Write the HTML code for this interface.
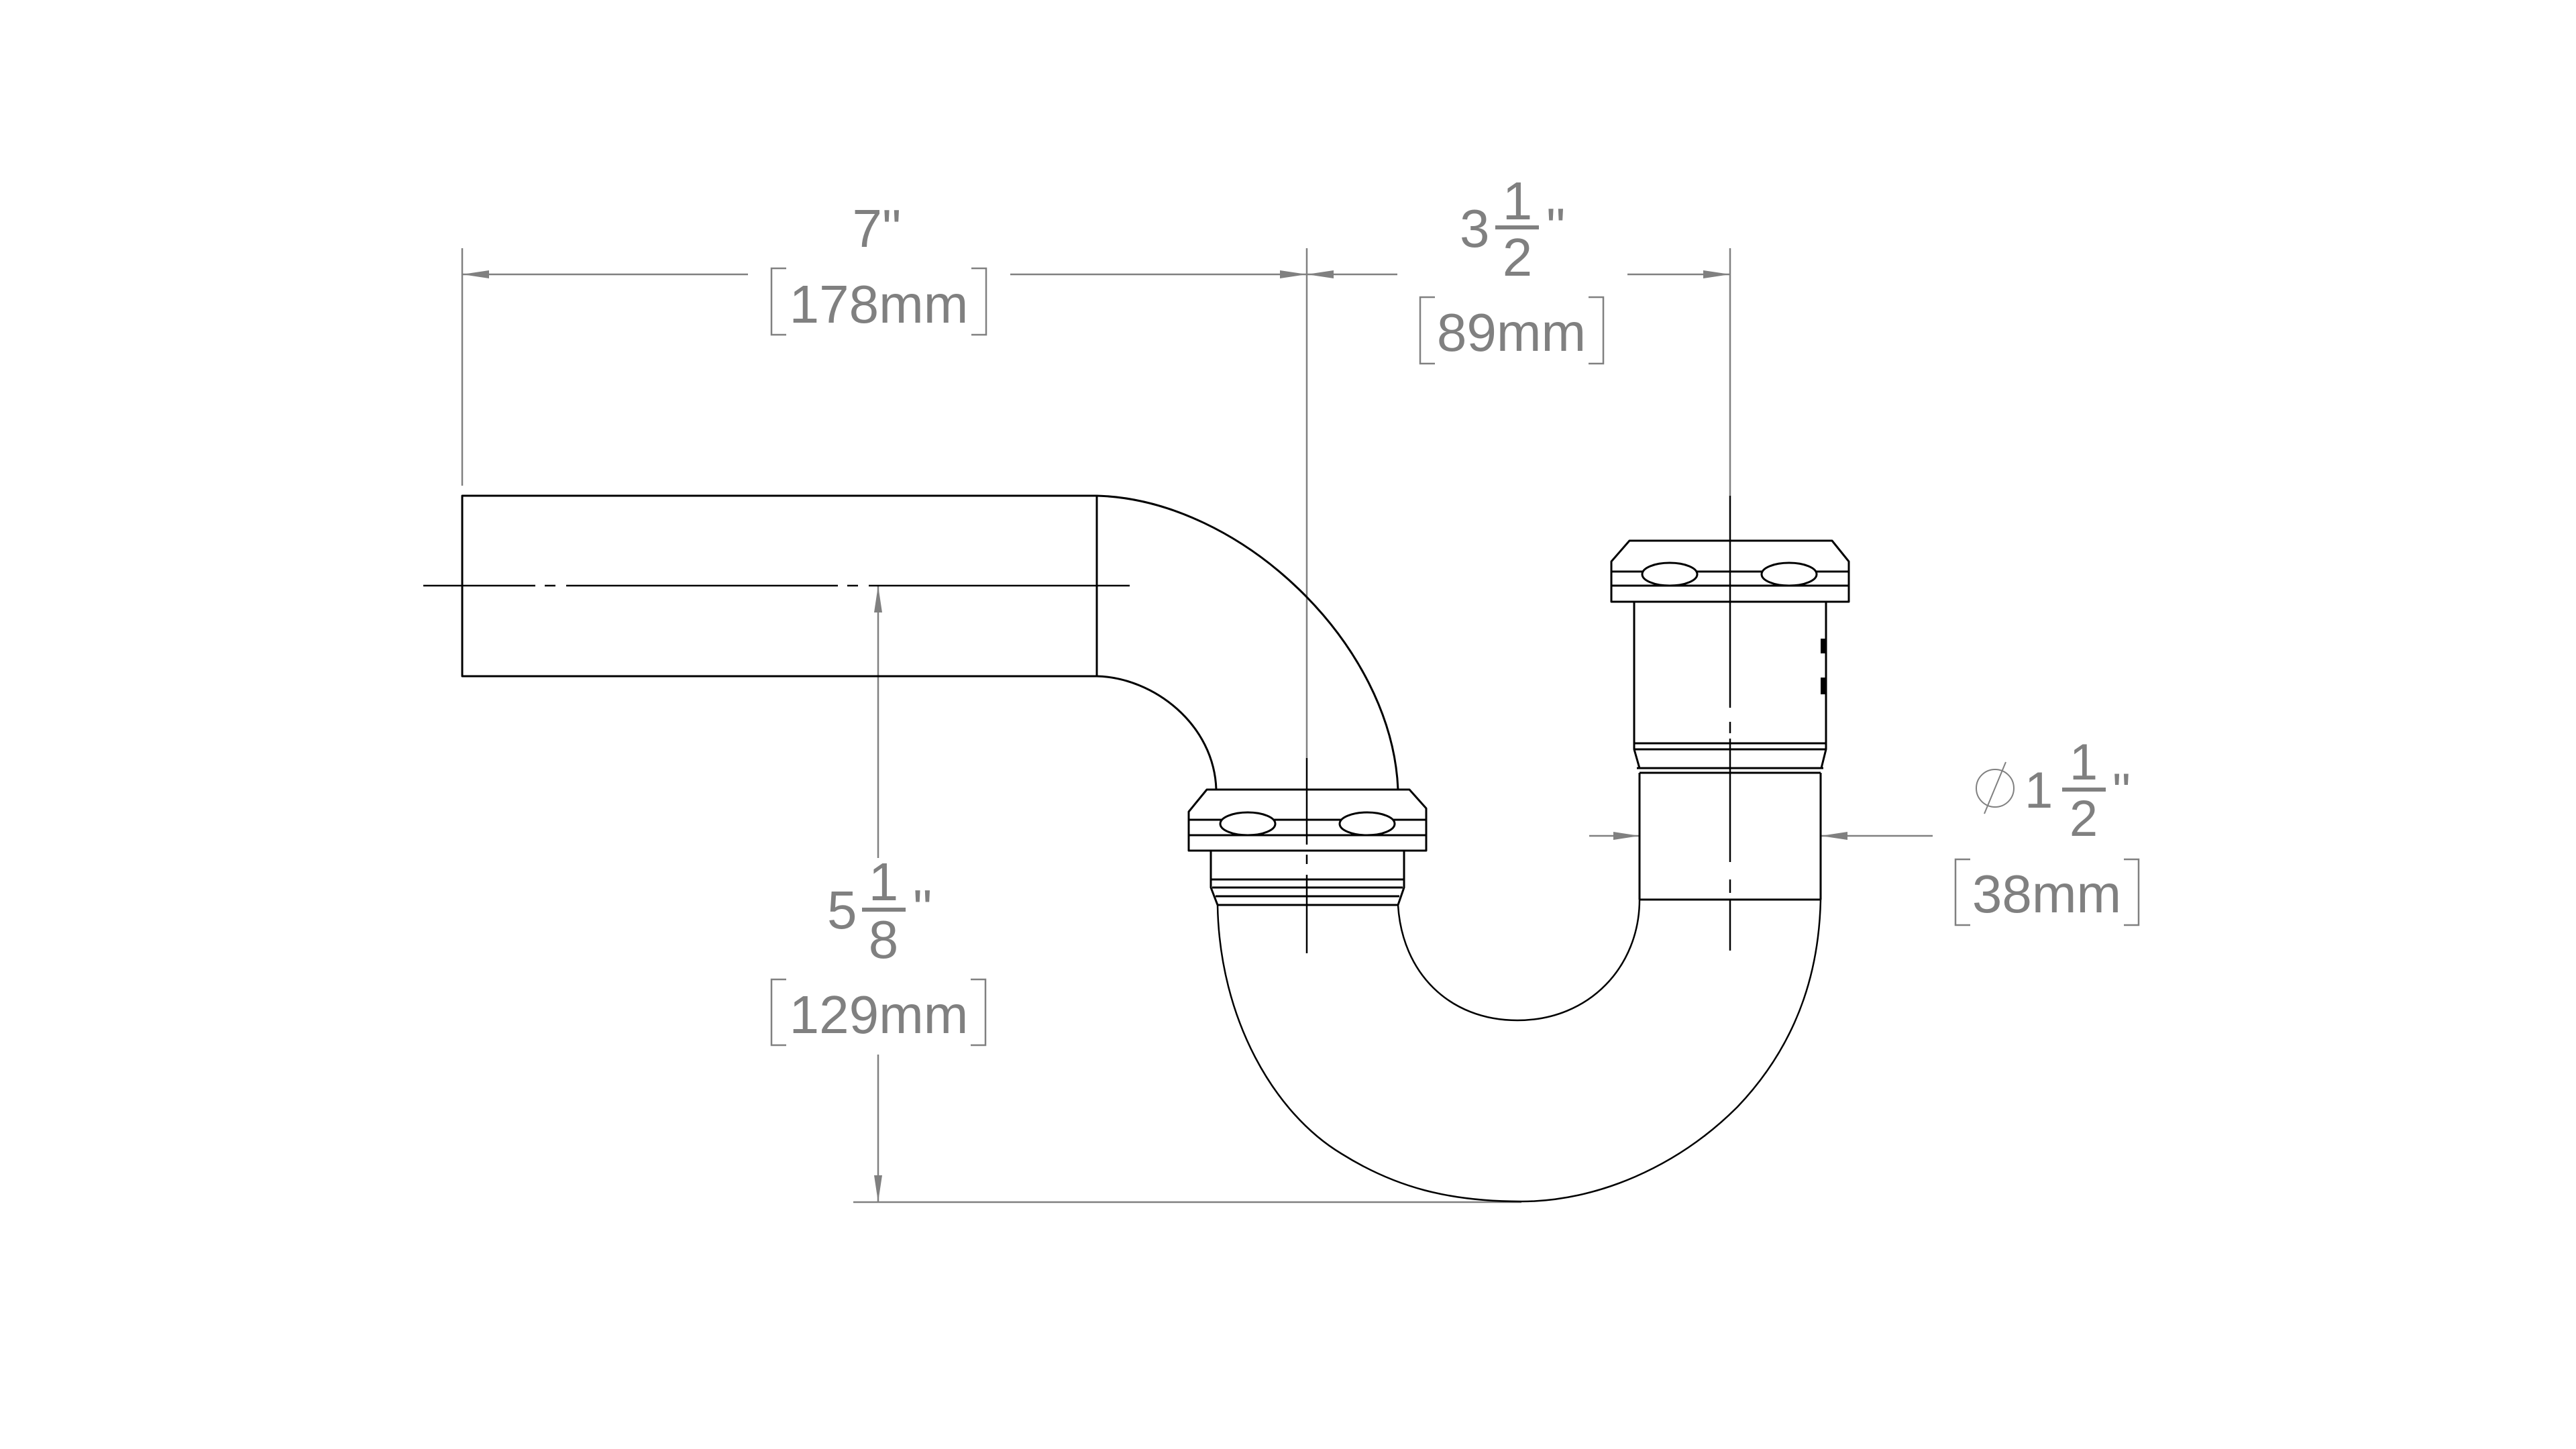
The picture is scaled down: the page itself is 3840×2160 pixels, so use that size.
<!DOCTYPE html>
<html><head><meta charset="utf-8"><style>html,body{margin:0;padding:0;background:#fff}svg{display:block}</style></head>
<body>
<svg width="3840" height="2160" viewBox="0 0 3840 2160" xmlns="http://www.w3.org/2000/svg">
<rect width="3840" height="2160" fill="#fff"/>
<g stroke="#808080" stroke-width="2.5" fill="none">
  <!-- extension lines -->
  <line x1="689" y1="370" x2="689" y2="724"/>
  <line x1="1948" y1="370" x2="1948" y2="1130"/>
  <line x1="2579" y1="370" x2="2579" y2="739"/>
  <!-- top dims -->
  <line x1="689" y1="409" x2="1115" y2="409"/>
  <line x1="1506" y1="409" x2="1948" y2="409"/>
  <line x1="1948" y1="409" x2="2083" y2="409"/>
  <line x1="2426" y1="409" x2="2579" y2="409"/>
  <!-- vertical dim -->
  <line x1="1309" y1="873" x2="1309" y2="1279"/>
  <line x1="1309" y1="1572" x2="1309" y2="1792"/>
  <line x1="1272" y1="1792" x2="2268" y2="1792"/>
  <!-- dia dim -->
  <line x1="2369" y1="1246" x2="2444" y2="1246"/>
  <line x1="2714" y1="1246" x2="2881" y2="1246"/>
  <!-- brackets -->
  <path d="M1172,400 H1150 V499 H1172 M1448,400 H1470 V499 H1448"/>
  <path d="M2139,443 H2117 V542 H2139 M2368,443 H2390 V542 H2368"/>
  <path d="M1172,1460 H1150 V1558 H1172 M1447,1460 H1469 V1558 H1447"/>
  <path d="M2937,1281 H2915 V1379 H2937 M3166,1281 H3188 V1379 H3166"/>
  <!-- diameter symbol -->
  <circle cx="2974" cy="1175" r="28" stroke-width="2"/>
  <line x1="2958" y1="1213" x2="2990" y2="1136" stroke-width="2"/>
</g>
<g fill="#808080">
  <!-- arrowheads -->
  <polygon points="689,409 729,403 729,415"/>
  <polygon points="1948,409 1908,403 1908,415"/>
  <polygon points="1948,409 1988,403 1988,415"/>
  <polygon points="2579,409 2539,403 2539,415"/>
  <polygon points="1309,873 1303,913 1315,913"/>
  <polygon points="1309,1792 1303,1752 1315,1752"/>
  <polygon points="2444,1246 2405,1240 2405,1252"/>
  <polygon points="2714,1246 2754,1240 2754,1252"/>
  <rect x="1285" y="1353" width="65" height="6"/>
  <rect x="2229" y="336" width="65" height="6"/>
  <rect x="3074" y="1174" width="65" height="6"/>
</g>
<g fill="#808080" font-family="Liberation Sans, sans-serif" font-size="80">
  <text x="1307" y="368" text-anchor="middle">7"</text>
  <text x="1310" y="481" text-anchor="middle">178mm</text>
  <text x="2176" y="368">3</text>
  <text x="2262" y="327" text-anchor="middle">1</text>
  <text x="2262" y="411" text-anchor="middle">2</text>
  <text x="2305" y="366">"</text>
  <text x="2253" y="523" text-anchor="middle">89mm</text>
  <text x="1233" y="1384">5</text>
  <text x="1317" y="1342" text-anchor="middle">1</text>
  <text x="1317" y="1428" text-anchor="middle">8</text>
  <text x="1361" y="1382">"</text>
  <text x="1310" y="1540" text-anchor="middle">129mm</text>
  <text x="3018" y="1204" font-size="76">1</text>
  <text x="3106" y="1162" text-anchor="middle" font-size="76">1</text>
  <text x="3106" y="1246" text-anchor="middle" font-size="76">2</text>
  <text x="3149" y="1206" font-size="76">"</text>
  <text x="3051" y="1360" text-anchor="middle">38mm</text>
</g>
<g stroke="#000" stroke-width="3" fill="none" stroke-linejoin="round">
  <!-- horizontal pipe -->
  <path d="M1635,739 H689 V1008 H1635 Z"/>
  <!-- upper bend -->
  <path d="M1635,739 C1850,745 2075,960 2084,1177"/>
  <path d="M1635,1008 C1720,1010 1810,1080 1813,1177"/>
  <!-- left nut -->
  <path d="M1799,1177 H2101 L2126,1205 V1268 H1772 V1210 Z"/>
  <line x1="1772" y1="1222" x2="2126" y2="1222"/>
  <line x1="1772" y1="1245" x2="2126" y2="1245"/>
  <ellipse cx="1860" cy="1228" rx="41" ry="17" fill="#fff"/>
  <ellipse cx="2038" cy="1228" rx="41" ry="17" fill="#fff"/>
  <path d="M1805,1268 V1323 L1815,1349 M2093,1268 V1323 L2084,1349"/>
  <line x1="1805" y1="1311" x2="2093" y2="1311"/>
  <line x1="1807" y1="1323" x2="2091" y2="1323"/>
  <line x1="1812" y1="1336" x2="2086" y2="1336"/>
  <line x1="1815" y1="1349" x2="2084" y2="1349"/>
  <!-- U bend -->
  <path d="M1815,1349 C1818,1520 1900,1660 2000,1720 C2080,1770 2160,1791 2268,1791 C2380,1791 2500,1740 2590,1650 C2690,1545 2712,1430 2714,1341" stroke-width="2.5"/>
  <path d="M2084,1349 C2090,1450 2160,1521 2262,1521 C2370,1521 2444,1440 2444,1341" stroke-width="2.5"/>
  <!-- right vertical pipe -->
  <path d="M2444,1341 V1152 M2714,1341 V1152"/>
  <line x1="2444" y1="1341" x2="2714" y2="1341"/>
  <line x1="2444" y1="1152" x2="2714" y2="1152"/>
  <path d="M2444,1145 L2436,1117 V897 M2715,1145 L2722,1117 V897"/>
  <line x1="2440" y1="1145" x2="2718" y2="1145"/>
  <line x1="2436" y1="1117" x2="2722" y2="1117"/>
  <line x1="2436" y1="1108" x2="2722" y2="1108"/>
  <!-- right nut -->
  <path d="M2429,806 H2731 L2756,837 V897 H2402 V837 Z"/>
  <line x1="2402" y1="852" x2="2756" y2="852"/>
  <line x1="2402" y1="873" x2="2756" y2="873"/>
  <ellipse cx="2489" cy="856" rx="41" ry="17" fill="#fff"/>
  <ellipse cx="2667" cy="856" rx="41" ry="17" fill="#fff"/>
</g>
<!-- small marks -->
<g fill="#000">
  <rect x="2714" y="952" width="8" height="22"/>
  <rect x="2714" y="1010" width="8" height="25"/>
</g>
<!-- centerlines -->
<g stroke="#000" stroke-width="2.5" fill="none">
  <line x1="631" y1="873" x2="1684" y2="873" stroke-dasharray="167 14 16 16 405 14 16 16 405 14 16 16 405"/>
  <line x1="1948" y1="1130" x2="1948" y2="1421" stroke-dasharray="129 15 14 16 117"/>
  <line x1="2579" y1="739" x2="2579" y2="1418" stroke-dasharray="316 21 17 8 184 26 20 11 75"/>
</g>
</svg>
</body></html>
